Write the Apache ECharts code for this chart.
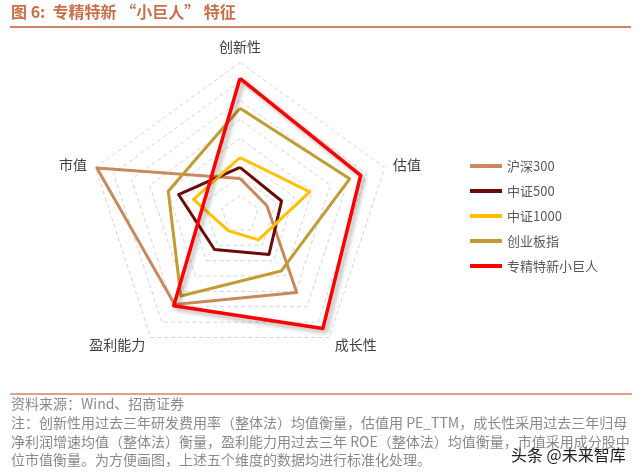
<!DOCTYPE html>
<html>
<head>
<meta charset="utf-8">
<script src="https://cdn.jsdelivr.net/npm/echarts@6/dist/echarts.min.js"></script>
<style>
html,body{margin:0;padding:0;background:#fff;}
#c{width:641px;height:476px;}
</style>
</head>
<body>
<div id="c"></div>
<script>
// Indicators in counterclockwise order starting from the top
var indicators = ['创新性', '市值', '盈利能力', '成长性', '估值'];
var seriesNames = ['沪深300', '中证500', '中证1000', '创业板指', '专精特新小巨人'];
var hs300 = [1.9, 7.92, 5.85, 5.08, 1.49];
var zz500 = [2.48, 3.4, 2.28, 2.6, 2.3];
var zz1000 = [3.0, 2.57, 1.05, 1.65, 3.86];
var cybz = [5.59, 3.97, 5.3, 3.68, 6.07];
var zjtx = [7.17, 2.0, 5.93, 7.42, 6.68];
var seriesValues = [hs300, zz500, zz1000, cybz, zjtx];
var axisMax = 8;

var colors = ['#C98A5B', '#6B0A0A', '#FFC000', '#C39B33', '#FF0000'];
var FONT = '"Noto Sans CJK SC", "Noto Sans", sans-serif';

var chart = echarts.init(document.getElementById('c'), null, {renderer: 'canvas'});

var series = seriesNames.map(function (n, i) {
  var isRed = i === 4;
  return {
    type: 'radar',
    name: n,
    symbol: 'none',
    z: 2 + i,
    lineStyle: {
      width: isRed ? 3.5 : 3,
      color: colors[i],
      shadowColor: isRed ? 'rgba(0,0,0,0.3)' : 'rgba(0,0,0,0)',
      shadowBlur: isRed ? 4 : 0,
      shadowOffsetX: isRed ? 3 : 0,
      shadowOffsetY: isRed ? 3 : 0
    },
    itemStyle: {color: colors[i]},
    data: [{value: seriesValues[i], name: n}]
  };
});

var notes = [
  '资料来源：Wind、招商证券',
  '注：创新性用过去三年研发费用率（整体法）均值衡量，估值用 PE_TTM，成长性采用过去三年归母',
  '净利润增速均值（整体法）衡量，盈利能力用过去三年 ROE（整体法）均值衡量，市值采用成分股中',
  '位市值衡量。为方便画图，上述五个维度的数据均进行标准化处理。'
];
var noteY = [404, 423, 442, 460];

var graphics = [
  {type: 'text', left: 11, top: 4, style: {text: '图 6:  专精特新 “小巨人” 特征', fill: '#C8704A', font: 'bold 16px ' + FONT}},
  {type: 'line', shape: {x1: 10, y1: 27, x2: 631, y2: 27}, style: {stroke: '#D08462', lineWidth: 2}},
  {type: 'line', shape: {x1: 10, y1: 394, x2: 632, y2: 394}, style: {stroke: '#D08462', lineWidth: 1.5}},
  {type: 'text', x: 511, y: 455, style: {text: '头条 @未来智库', fill: '#222', font: '16px ' + FONT, textVerticalAlign: 'middle'}}
];
notes.forEach(function (t, i) {
  graphics.push({type: 'text', x: 11, y: noteY[i], style: {text: t, fill: '#8a8a8a', font: '14px ' + FONT, textVerticalAlign: 'middle'}});
});

chart.setOption({
  animation: false,
  color: colors,
  legend: {
    orient: 'vertical',
    left: 465,
    top: 154,
    icon: 'rect',
    itemWidth: 32,
    itemHeight: 4,
    itemGap: 11,
    data: seriesNames,
    textStyle: {fontSize: 13, color: '#595959', fontFamily: FONT, lineHeight: 14}
  },
  radar: {
    center: [240, 214.5],
    radius: 152,
    startAngle: 90,
    splitNumber: 8,
    nameGap: 9,
    indicator: indicators.map(function (n) { return {name: n, max: axisMax, min: 0}; }),
    axisName: {color: '#404040', fontSize: 14, fontFamily: FONT},
    splitLine: {lineStyle: {color: '#d4d4d4', type: [4, 3], width: 1}},
    splitArea: {show: false},
    axisLine: {show: false},
    axisTick: {show: false},
    axisLabel: {show: false}
  },
  graphic: graphics,
  series: series
});
</script>
</body>
</html>
